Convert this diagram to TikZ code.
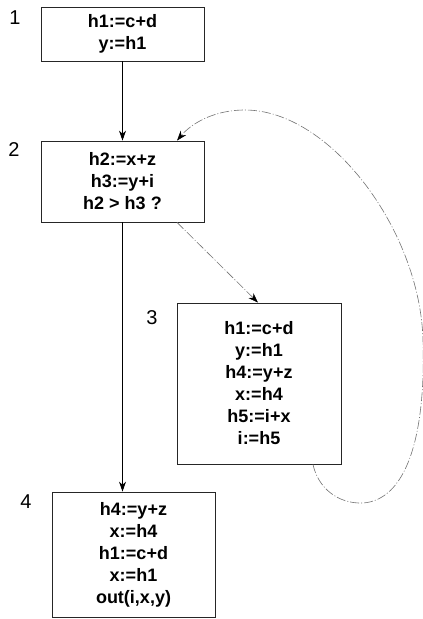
\documentclass[tikz,border=0pt]{standalone}
\usepackage{fontspec}
\setmainfont{Liberation Sans}
\usetikzlibrary{arrows.meta,calc}
\begin{document}
\begin{tikzpicture}[x=1pt,y=-1pt,
  blk/.style={draw=black!85, line width=0.8pt, minimum width=163pt, align=center,
    font=\bfseries\fontsize{18}{22}\selectfont, inner sep=0pt},
  lbl/.style={font=\fontsize{20}{24}\selectfont, inner sep=0pt},
  mainarrow/.style={draw=black, line width=0.8pt, -{Stealth[length=10pt,width=7pt]}},
  faintarrow/.style={draw=black!55, line width=0.6pt, dash pattern=on 9pt off 2pt on 1pt off 2pt, -{Stealth[length=10pt,width=7pt,color=black,fill=black]}}]
\useasboundingbox (0,0) rectangle (423,619);

\node[blk, minimum height=54pt] (b1) at (122.5,34) {h1:=c+d\\y:=h1};
\node[blk, minimum height=81pt] (b2) at (122.5,181.5) {h2:=x+z\\h3:=y+i\\h2 > h3 ?};
\node[blk, minimum width=164pt, minimum height=161pt] (b3) at (259,383.5) {h1:=c+d\\y:=h1\\h4:=y+z\\x:=h4\\h5:=i+x\\i:=h5};
\node[blk, minimum height=125pt] (b4) at (133.5,554.5) {h4:=y+z\\x:=h4\\h1:=c+d\\x:=h1\\out(i,x,y)};

\node[lbl] (l1) at (15,18) {1};
\node[lbl] (l2) at (14,150) {2};
\node[lbl] (l3) at (152,318) {3};
\node[lbl] (l4) at (26,502) {4};

\draw[mainarrow] (b1.south) -- (b2.north);
\draw[mainarrow] (b2.south) -- (b2.south |- b4.north);
\draw[faintarrow] ($(b2.south)+(54.5,0)$) -- ($(b3.north)+(-1,0)$);
\draw[faintarrow] ($(b3.south)+(54,0)$) .. controls (318,488) and (338,504) .. (363,503)
  .. controls (405,500) and (426,440) .. (423,340)
  .. controls (420,230) and (330,110) .. (245,110)
  .. controls (212,110) and (190,125) .. ($(b2.north)+(54.5,0)$);
\end{tikzpicture}
\end{document}
